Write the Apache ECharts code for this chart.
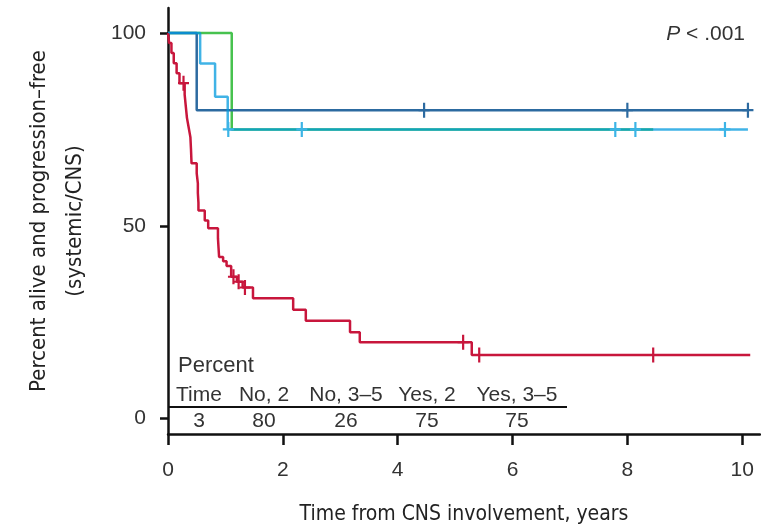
<!DOCTYPE html>
<html>
<head>
<meta charset="utf-8">
<script src="https://cdn.jsdelivr.net/npm/echarts@6/dist/echarts.min.js"></script>
<style>
html,body{margin:0;padding:0;background:#fff;}
#chart{width:761px;height:532px;}
</style>
</head>
<body>
<div id="chart"></div>
<script>
// ---- data ----
const xTicks = [0, 2, 4, 6, 8, 10];
const yTicks = [0, 50, 100];

// Kaplan-Meier step points [years, percent]
const noTwo = [[0,100],[0.5,80],[10.1,80]];
const noTwoCensor = [4.46, 8.0, 10.1];

const noThreeFive = [
  [0,100],
  [0.02,97.4],[0.06,94.8],[0.10,92.2],[0.15,89.6],[0.20,87.0],
  [0.29,84.0],[0.31,81.0],[0.33,78.0],[0.36,75.5],[0.39,73.0],[0.40,70.0],[0.41,66.2],
  [0.50,63.6],[0.52,61.0],[0.52,58.5],[0.53,56.0],[0.53,54.0],
  [0.64,51.4],[0.70,49.4],[0.87,46.8],[0.88,44.3],[0.89,41.9],[0.96,40.8],[1.02,39.6],
  [1.10,36.8],[1.20,35.5],[1.30,34.0],[1.48,31.2],
  [2.18,28.2],[2.40,25.4],[3.17,22.4],[3.34,19.8],[5.29,16.5],[10.14,16.5]
];
const noThreeFiveCensor = [0.27, 1.14, 1.23, 1.34, 5.14, 5.42, 8.45];

const yesTwo = [[0,100],[1.11,75],[8.45,75]];

const yesThreeFive = [[0,100],[0.56,92.1],[0.82,83.5],[1.04,75],[10.1,75]];
const yesThreeFiveCensor = [1.05, 2.33, 7.79, 8.14, 9.7];

const tableTitle = 'Percent';
const tableHeaders = ['Time', 'No, 2', 'No, 3\u20135', 'Yes, 2', 'Yes, 3\u20135'];
const tableValues = ['3', '80', '26', '75', '75'];
const pText = '.001';

// ---- helpers ----
function valueAt(steps, t) {
  let v = steps[0][1];
  for (const p of steps) { if (p[0] <= t) v = p[1]; }
  return v;
}
function censorPoints(steps, times) {
  return times.map(t => [t, valueAt(steps, t)]);
}

const COL = {
  dark: '#2c6aa0',
  red: '#c8163c',
  green: '#47c24f',
  light: '#3cb4e6'
};
const plus = 'path://M4,0H6V14H4Z M0,6H10V8H0Z';
const LW = 2.5;
const SANS = 'Liberation Sans, Arial, sans-serif';
const NARROW = 'Liberation Sans Narrow, DejaVu Sans Condensed, sans-serif';

function stepSeries(name, data, color, opacity) {
  return {
    name: name, type: 'line', step: 'end', data: data,
    showSymbol: false, symbol: 'none',
    lineStyle: { color: color, width: LW, opacity: opacity == null ? 1 : opacity },
    itemStyle: { color: color },
    emphasis: { disabled: true }, silent: true
  };
}
function censorSeries(name, data, color) {
  return {
    name: name, type: 'scatter', data: data,
    symbol: plus, symbolSize: [11, 15],
    itemStyle: { color: color, opacity: 1 },
    emphasis: { disabled: true }, silent: true, z: 3
  };
}

const chart = echarts.init(document.getElementById('chart'), null, { renderer: 'canvas' });

const tableX = [199, 264, 346, 427, 517];
const graphics = [];
graphics.push({
  type: 'text',
  style: { x: 178, y: 366, text: tableTitle, fontSize: 22, fontFamily: SANS,
           fill: '#333', align: 'left', verticalAlign: 'middle' }
});
tableHeaders.forEach((h, i) => graphics.push({
  type: 'text',
  style: { x: tableX[i], y: 395, text: h, fontSize: 21, fontFamily: SANS,
           fill: '#333', align: 'center', verticalAlign: 'middle' }
}));
tableValues.forEach((v, i) => graphics.push({
  type: 'text',
  style: { x: tableX[i], y: 421, text: v, fontSize: 21, fontFamily: SANS,
           fill: '#333', align: 'center', verticalAlign: 'middle' }
}));
graphics.push({
  type: 'line',
  shape: { x1: 169, y1: 407, x2: 567, y2: 407 },
  style: { stroke: '#111', lineWidth: 2 }
});
graphics.push({
  type: 'text',
  style: {
    x: 745, y: 34, text: '{i|P} < ' + pText, align: 'right', verticalAlign: 'middle',
    fontSize: 21, fontFamily: SANS, fill: '#333',
    rich: { i: { fontStyle: 'italic', fontSize: 21, fontFamily: SANS, fill: '#333' } }
  }
});

const option = {
  animation: false,
  backgroundColor: '#fff',
  grid: { left: 168, right: 1, top: 8, bottom: 98, containLabel: false },
  xAxis: {
    type: 'value', min: 0, max: 10.31, interval: 2,
    name: 'Time from CNS involvement, years',
    nameLocation: 'middle', nameGap: 70,
    nameTextStyle: { fontSize: 21, fontFamily: NARROW, color: '#222' },
    axisLine: { show: true, onZero: false, lineStyle: { color: '#111', width: 2.5 } },
    axisTick: { show: true, inside: false, length: 11, lineStyle: { color: '#111', width: 2.5 }, customValues: xTicks },
    axisLabel: { show: true, margin: 26, fontSize: 21, fontFamily: SANS, color: '#333', customValues: xTicks },
    splitLine: { show: false }
  },
  yAxis: {
    type: 'value', min: -4, max: 106.5,
    name: 'Percent alive and progression\u2013free\n(systemic/CNS)',
    nameLocation: 'middle', nameRotate: 90, nameGap: 75,
    nameTextStyle: { fontSize: 22, lineHeight: 36, fontFamily: NARROW, color: '#222', align: 'center' },
    axisLine: { show: true, onZero: false, lineStyle: { color: '#111', width: 2.5 } },
    axisTick: { show: true, inside: false, length: 8, lineStyle: { color: '#111', width: 2.5 }, customValues: yTicks },
    axisLabel: { show: true, margin: 22, fontSize: 21, fontFamily: SANS, color: '#333', customValues: yTicks },
    splitLine: { show: false }
  },
  graphic: graphics,
  series: [
    stepSeries('Yes, 2', yesTwo, COL.green),
    stepSeries('No, 2', noTwo, COL.dark),
    stepSeries('Yes, 3\u20135', yesThreeFive, '#009ade', 0.75),
    stepSeries('No, 3\u20135', noThreeFive, COL.red),
    censorSeries('No, 2 censored', censorPoints(noTwo, noTwoCensor), COL.dark),
    censorSeries('Yes, 3\u20135 censored', censorPoints(yesThreeFive, yesThreeFiveCensor), COL.light),
    censorSeries('No, 3\u20135 censored', censorPoints(noThreeFive, noThreeFiveCensor), COL.red)
  ]
};
chart.setOption(option);
</script>
</body>
</html>
